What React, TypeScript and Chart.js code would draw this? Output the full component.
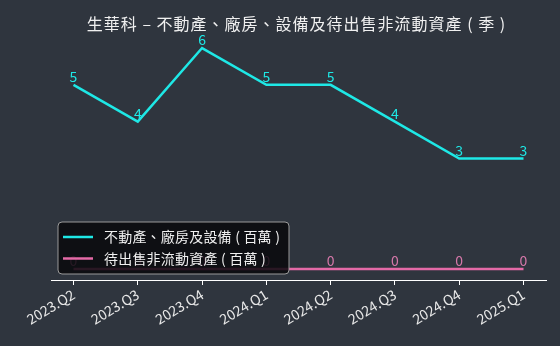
import React, { useEffect, useRef } from "react";
import { Chart, registerables } from "chart.js";

Chart.register(...registerables);

const TITLE = "生華科 – 不動產、廠房、設備及待出售非流動資產 ( 季 )";
const categories = ["2023.Q2", "2023.Q3", "2023.Q4", "2024.Q1", "2024.Q2", "2024.Q3", "2024.Q4", "2025.Q1"];
const ppeValues = [5, 4, 6, 5, 5, 4, 3, 3];
const assetsHeldValues = [0, 0, 0, 0, 0, 0, 0, 0];
const seriesNames = ["不動產、廠房及設備 ( 百萬 )", "待出售非流動資產 ( 百萬 )"];

const BG = "#2f353e";
const CYAN = "#1ee8e6";
const PINK = "#e46aa7";
const PINK_LABEL = "#d678aa";
const FONT = "'Noto Sans CJK TC', 'Noto Sans', sans-serif";

export default function App() {
  const ref = useRef<HTMLCanvasElement>(null);
  useEffect(() => {
    document.body.style.margin = "0";
    document.body.style.background = BG;
    const canvas = ref.current!;
    const bgPlugin = {
      id: "bg",
      beforeDraw(chart: any) {
        const { ctx, width, height } = chart;
        ctx.save();
        ctx.fillStyle = BG;
        ctx.fillRect(0, 0, width, height);
        ctx.restore();
      },
    };
    const labelPlugin = {
      id: "labels",
      afterDatasetsDraw(chart: any) {
        const { ctx } = chart;
        ctx.save();
        ctx.font = `14px ${FONT}`;
        ctx.textAlign = "center";
        ctx.textBaseline = "bottom";
        chart.data.datasets.forEach((ds: any, di: number) => {
          const meta = chart.getDatasetMeta(di);
          ctx.fillStyle = di === 0 ? CYAN : PINK_LABEL;
          meta.data.forEach((pt: any, i: number) => {
            const v = ds.data[i].y;
            ctx.fillText(String(v), pt.x, pt.y - 1);
          });
        });
        ctx.restore();
      },
      afterDraw(chart: any) {
        const { ctx, chartArea } = chart;
        ctx.save();
        // title
        ctx.font = `16px ${FONT}`;
        (ctx as any).letterSpacing = "1px";
        ctx.fillStyle = "#f0f0f0";
        ctx.textAlign = "center";
        ctx.textBaseline = "middle";
        ctx.fillText(TITLE, (chartArea.left + chartArea.right) / 2 - 2, 23.5);
        // legend
        const x = 58, y = 222, w = 231, h = 52, r = 4;
        ctx.beginPath();
        ctx.moveTo(x + r, y);
        ctx.lineTo(x + w - r, y);
        ctx.quadraticCurveTo(x + w, y, x + w, y + r);
        ctx.lineTo(x + w, y + h - r);
        ctx.quadraticCurveTo(x + w, y + h, x + w - r, y + h);
        ctx.lineTo(x + r, y + h);
        ctx.quadraticCurveTo(x, y + h, x, y + h - r);
        ctx.lineTo(x, y + r);
        ctx.quadraticCurveTo(x, y, x + r, y);
        ctx.closePath();
        ctx.fillStyle = "rgba(8,8,12,0.85)";
        ctx.fill();
        ctx.strokeStyle = "#9a9a9a";
        ctx.lineWidth = 1;
        ctx.stroke();
        const items = [CYAN, PINK];
        ctx.font = `14px ${FONT}`;
        (ctx as any).letterSpacing = "0.2px";
        ctx.textAlign = "left";
        ctx.textBaseline = "middle";
        items.forEach((c, i) => {
          const yy = y + 15 + i * 21.5;
          ctx.strokeStyle = c;
          ctx.lineWidth = 2.5;
          ctx.beginPath();
          ctx.moveTo(63, yy);
          ctx.lineTo(93, yy);
          ctx.stroke();
          ctx.fillStyle = "#f0f0f0";
          ctx.fillText(seriesNames[i], 104, yy);
        });
        ctx.restore();
      },
    };
    const chart = new Chart(canvas, {
      type: "line",
      data: {
        datasets: [
          {
            label: seriesNames[0],
            data: ppeValues.map((v, i) => ({ x: i, y: v })),
            borderColor: CYAN,
            borderWidth: 2.5,
            pointRadius: 0,
            tension: 0,
          },
          {
            label: seriesNames[1],
            data: assetsHeldValues.map((v, i) => ({ x: i, y: v })),
            borderColor: PINK,
            borderWidth: 2.5,
            pointRadius: 0,
            tension: 0,
          },
        ],
      },
      options: {
        animation: false,
        responsive: false,
        maintainAspectRatio: false,
        layout: { padding: { left: 51, right: 14, top: 37, bottom: 0 } },
        plugins: { legend: { display: false }, title: { display: false }, tooltip: { enabled: false } },
        scales: {
          x: {
            type: "linear",
            min: -0.35,
            max: 7.35,
            afterBuildTicks(axis: any) {
              axis.ticks = categories.map((_, i) => ({ value: i }));
            },
            afterFit(axis: any) {
              axis.height = 66;
            },
            ticks: {
              color: "#e8e8e8",
              font: { size: 14, family: FONT },
              maxRotation: 31,
              minRotation: 31,
              autoSkip: false,
              padding: 1,
              callback: (v: any) => categories[v] ?? "",
            },
            grid: { display: true, drawOnChartArea: false, drawTicks: true, tickLength: 5, color: "#ffffff", lineWidth: 1 },
            border: { display: true, color: "#ffffff", width: 1 },
          },
          y: {
            display: false,
            min: -0.3,
            max: 6.3,
          },
        },
      },
      plugins: [bgPlugin, labelPlugin],
    });
    return () => chart.destroy();
  }, []);
  return <canvas ref={ref} width={560} height={346} style={{ display: "block", width: 560, height: 346 }} />;
}
